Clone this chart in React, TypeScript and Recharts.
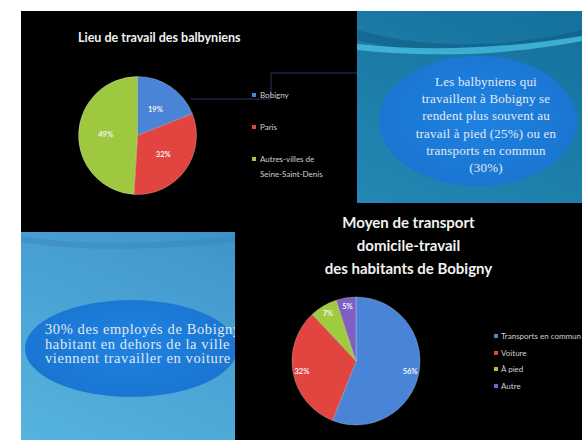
import { PieChart, Pie, Cell } from 'recharts';

// Lieu de travail des balbyniens
const workPlaces = ['Bobigny', 'Paris', 'Autres-villes de\nSeine-Saint-Denis'];
const workShares = [19, 32, 49];
const workColors = ['#4a84d6', '#e2443f', '#9dc83f'];

// Moyen de transport domicile-travail
const transportModes = ['Transports en commun', 'Voiture', 'À pied', 'Autre'];
const transportShares = [56, 32, 7, 5];
const transportColors = ['#4a84d6', '#e2443f', '#9fcb40', '#7f5fc2'];

const noteTop = [
  'Les balbyniens qui',
  'travaillent à Bobigny se',
  'rendent plus souvent au',
  'travail à pied (25%) ou en',
  'transports en commun',
  '(30%)',
];
const noteBottom = [
  '30% des employés de Bobigny',
  'habitant en dehors de la ville',
  'viennent travailler en voiture',
];

const workData = workPlaces.map((name, i) => ({ name, value: workShares[i] }));
const transportData = transportModes.map((name, i) => ({ name, value: transportShares[i] }));

const RAD = Math.PI / 180;

// label placed inside the slice at a fraction of the radius
const pctLabel = (factor: number) => (props: any) => {
  const { cx, cy, midAngle, outerRadius, value } = props;
  const r = outerRadius * factor;
  const x = cx + r * Math.cos(-midAngle * RAD);
  const y = cy + r * Math.sin(-midAngle * RAD);
  return (
    <text x={x} y={y} fill="#f4f4f4" fontSize={7.5} fontWeight="bold" textAnchor="middle" dominantBaseline="central" fontFamily="Lato, sans-serif">
      {value}%
    </text>
  );
};

const serif = '"Liberation Serif", "DejaVu Serif", serif';
const sans = 'Lato, "Open Sans", sans-serif';

export default function App() {
  return (
    <div style={{ position: 'absolute', left: 0, top: 0, width: 582, height: 440, background: '#fff', overflow: 'hidden' }}>
      {/* slide background */}
      <div
        style={{
          position: 'absolute', left: 21, top: 11, width: 561, height: 429,
          background: 'linear-gradient(205deg, #15709c 0%, #2286b2 40%, #4499cf 62%, #56b3de 100%)',
        }}
      />
      <svg width={582} height={440} style={{ position: 'absolute', left: 0, top: 0 }}>
        <path d="M357 30 C 420 48, 500 50, 582 30 L582 38 C 500 58, 420 56, 357 40 Z" fill="#0f5f86" opacity={0.6} />
        <path d="M357 44 C 430 52, 510 48, 582 36 L582 41 C 510 55, 430 58, 357 50 Z" fill="#4cc6e4" opacity={0.75} />
        <path d="M21 236 C 80 246, 160 244, 235 236 L235 242 C 160 250, 80 252, 21 242 Z" fill="#3a86c0" opacity={0.5} />
      </svg>

      {/* bubble top right */}
      <div
        style={{
          position: 'absolute', left: 379, top: 56, width: 198, height: 130, borderRadius: '50%',
          background: 'radial-gradient(ellipse at 50% 45%, #1f82e0 0%, #1a76d2 70%, #1868bd 100%)',
        }}
      />
      <div style={{ position: 'absolute', left: 386, top: 73, width: 200, textAlign: 'center', fontFamily: serif, fontSize: 13, letterSpacing: 0.2, lineHeight: '17.2px', color: '#e3eaf5' }}>
        {noteTop.map((l) => (
          <div key={l}>{l}</div>
        ))}
      </div>

      {/* bubble bottom left */}
      <div
        style={{
          position: 'absolute', left: 25, top: 300, width: 212, height: 97, borderRadius: '50%',
          background: 'radial-gradient(ellipse at 50% 45%, #1f82e0 0%, #1a76d2 70%, #1868bd 100%)',
        }}
      />
      <div style={{ position: 'absolute', left: 45, top: 322, width: 260, whiteSpace: 'nowrap', fontFamily: serif, fontSize: 14.5, letterSpacing: 0.6, lineHeight: '14.5px', color: '#e0e8f4' }}>
        {noteBottom.map((l) => (
          <div key={l}>{l}</div>
        ))}
      </div>

      {/* panel 1 */}
      <div style={{ position: 'absolute', left: 21, top: 11, width: 336, height: 221, background: '#000', overflow: 'hidden' }}>
        <div style={{ position: 'absolute', left: 57, top: 19, fontFamily: sans, fontWeight: 'bold', fontSize: 12.5, lineHeight: '16px', color: '#f2f2f2', whiteSpace: 'nowrap' }}>
          Lieu de travail des balbyniens
        </div>
        <svg width={336} height={221} style={{ position: 'absolute', left: 0, top: 0 }}>
          <polyline points="169,88 250,88 250,62 336,62" fill="none" stroke="#2c3262" strokeWidth={1} />
        </svg>
        <div style={{ position: 'absolute', left: 0, top: 0 }}>
          <PieChart width={336} height={221} margin={{ top: 0, right: 0, bottom: 0, left: 0 }}>
            <Pie
              data={workData}
              dataKey="value"
              cx={116.5}
              cy={124.5}
              outerRadius={59}
              startAngle={90}
              endAngle={-270}
              stroke="rgba(255,255,255,0.25)"
              strokeWidth={1}
              label={pctLabel(0.54)}
              labelLine={false}
              isAnimationActive={false}
            >
              {workData.map((d, i) => (
                <Cell key={d.name} fill={workColors[i]} />
              ))}
            </Pie>
          </PieChart>
        </div>
        {workData.map((d, i) => (
          <div key={d.name} style={{ position: 'absolute', left: 231, top: 84 + i * 32 - 7.5 }}>
            <span style={{ position: 'absolute', left: 0, top: 5.5, width: 4, height: 4, background: workColors[i] }} />
            <span style={{ position: 'absolute', left: 8, top: 0, whiteSpace: 'pre', fontFamily: sans, fontSize: 8, lineHeight: '15px', color: '#d0d0d0' }}>{d.name}</span>
          </div>
        ))}
      </div>

      {/* panel 2 */}
      <div style={{ position: 'absolute', left: 235, top: 203, width: 347, height: 237, background: '#000', overflow: 'hidden' }}>
        <div style={{ position: 'absolute', left: 0, top: 7.5, width: 347, textAlign: 'center', fontFamily: sans, fontWeight: 'bold', fontSize: 15, lineHeight: '23px', color: '#f2f2f2' }}>
          <div>Moyen de transport</div>
          <div>domicile-travail</div>
          <div>des habitants de Bobigny</div>
        </div>
        <div style={{ position: 'absolute', left: 0, top: 0 }}>
          <PieChart width={347} height={237} margin={{ top: 0, right: 0, bottom: 0, left: 0 }}>
            <Pie
              data={transportData}
              dataKey="value"
              cx={121}
              cy={158}
              outerRadius={64}
              startAngle={90}
              endAngle={-270}
              stroke="rgba(255,255,255,0.25)"
              strokeWidth={1}
              label={pctLabel(0.86)}
              labelLine={false}
              isAnimationActive={false}
            >
              {transportData.map((d, i) => (
                <Cell key={d.name} fill={transportColors[i]} />
              ))}
            </Pie>
          </PieChart>
        </div>
        {transportData.map((d, i) => (
          <div key={d.name} style={{ position: 'absolute', left: 259, top: 133 + i * 16.7 - 6 }}>
            <span style={{ position: 'absolute', left: 0, top: 4, width: 4, height: 4, background: transportColors[i] }} />
            <span style={{ position: 'absolute', left: 7, top: 0, whiteSpace: 'nowrap', fontFamily: sans, fontSize: 8, lineHeight: '12px', color: '#d0d0d0' }}>{d.name}</span>
          </div>
        ))}
      </div>
    </div>
  );
}
